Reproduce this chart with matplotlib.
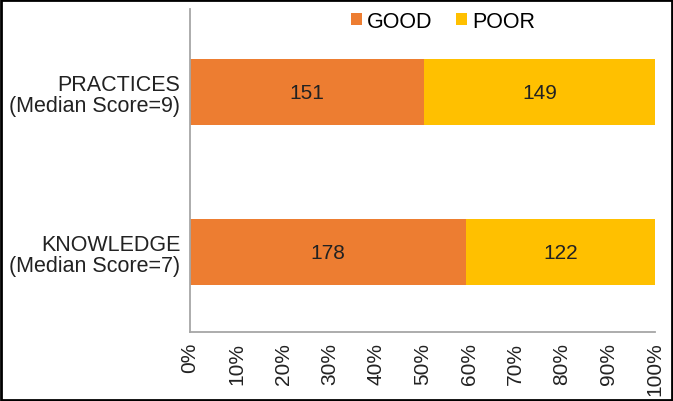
import matplotlib
matplotlib.use("Agg")
import matplotlib.pyplot as plt
from matplotlib.patches import Rectangle

plt.rcParams['font.family'] = ['Liberation Sans', 'DejaVu Sans']

categories = ["KNOWLEDGE\n(Median Score=7)", "PRACTICES\n(Median Score=9)"]
good = [178, 151]
poor = [122, 149]
ticks = [0, 10, 20, 30, 40, 50, 60, 70, 80, 90, 100]
tick_labels = [f"{t}%" for t in ticks]

orange = "#ED7D31"
yellow = "#FFC000"

fig = plt.figure(figsize=(6.73, 4.02), dpi=100)
ax = fig.add_axes([190 / 673, 1 - 333 / 402, 465 / 673, 323 / 402])

tot = [g + p for g, p in zip(good, poor)]
gp = [100 * g / t for g, t in zip(good, tot)]
pp = [100 * p / t for p, t in zip(poor, tot)]
ypos = list(range(len(categories)))

b1 = ax.barh(ypos, gp, height=0.41, color=orange, label="GOOD")
b2 = ax.barh(ypos, pp, left=gp, height=0.41, color=yellow, label="POOR")
for bars, vals in ((b1, good), (b2, poor)):
    for r, v in zip(bars, vals):
        ax.text(r.get_x() + r.get_width() / 2, r.get_y() + r.get_height() / 2, str(v),
                ha="center", va="center", fontsize=15, color="#222222")

ax.set_xlim(0, 100)
ax.set_ylim(-0.5, 1.52)
ax.set_xticks(ticks)
ax.set_xticklabels(tick_labels, rotation=90, fontsize=15, color="#222222")
ax.set_yticks(ypos)
ax.set_yticklabels(categories, fontsize=15.5, color="#222222", linespacing=1.05)
ax.tick_params(length=0, pad=7)
for s in ("top", "right"):
    ax.spines[s].set_visible(False)
for s in ("left", "bottom"):
    ax.spines[s].set_color("#a6a6a6")
    ax.spines[s].set_linewidth(1.3)

ax.legend(loc="center", bbox_to_anchor=(443 / 673, 1 - 22 / 402), bbox_transform=fig.transFigure,
          ncol=2, frameon=False, fontsize=15.5, handlelength=0.5, handleheight=0.5,
          handletextpad=0.25, columnspacing=1.1)

fig.patches.append(Rectangle((0.002, 0.003), 0.996, 0.994, transform=fig.transFigure,
                             fill=False, edgecolor="black", linewidth=2))

fig.savefig("out.png", dpi=100)
